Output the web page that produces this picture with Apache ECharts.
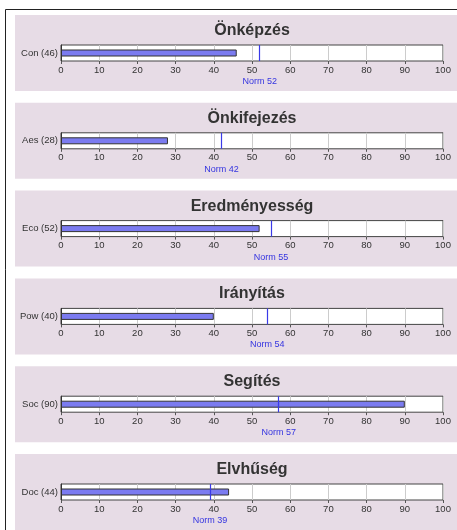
<!DOCTYPE html>
<html>
<head>
<meta charset="utf-8">
<script src="https://cdn.jsdelivr.net/npm/echarts@6/dist/echarts.min.js"></script>
<style>
  html, body { margin: 0; padding: 0; background: #fff; }
  #chart { width: 457px; height: 530px; }
</style>
</head>
<body>
<div id="chart"></div>
<script>
var titles = ['Önképzés', 'Önkifejezés', 'Eredményesség', 'Irányítás', 'Segítés', 'Elvhűség'];
var codes = ['Con', 'Aes', 'Eco', 'Pow', 'Soc', 'Doc'];
var scores = [46, 28, 52, 40, 90, 44];
var norms = [52, 42, 55, 54, 57, 39];

var chart = echarts.init(document.getElementById('chart'));

var panelTop = 15, panelStep = 87.8, panelH = 76;
var boxLeft = 61, boxRight = 14, boxH = 16;
var font = '"Liberation Sans", Arial, sans-serif';

var grids = [], xAxes = [], yAxes = [], series = [];
var graphics = [
  // outer frame
  { type: 'line', shape: { x1: 5.5, y1: 9.5, x2: 457, y2: 9.5 }, style: { stroke: '#222', lineWidth: 1 } },
  { type: 'line', shape: { x1: 5.5, y1: 9.5, x2: 5.5, y2: 530 }, style: { stroke: '#222', lineWidth: 1 } }
];

for (var i = 0; i < titles.length; i++) {
  var py = panelTop + i * panelStep;

  graphics.push({
    type: 'rect', z: -10,
    shape: { x: 15, y: py, width: 442, height: panelH },
    style: { fill: '#e7dce6' }
  });
  graphics.push({
    type: 'text',
    style: {
      text: titles[i], x: 252, y: py + 15.5,
      align: 'center', verticalAlign: 'middle',
      font: 'bold 16px ' + font, fill: '#333'
    }
  });

  grids.push({
    left: boxLeft, right: boxRight, top: py + 30, height: boxH,
    show: true, backgroundColor: '#fff', borderColor: '#444', borderWidth: 1
  });
  xAxes.push({
    gridIndex: i, type: 'value', min: 0, max: 100, interval: 10,
    axisLine: { show: false },
    axisTick: { show: true, length: 3, lineStyle: { color: '#555' } },
    axisLabel: { color: '#333', fontSize: 9.5, fontFamily: font, margin: 4 },
    splitLine: { show: true, lineStyle: { color: '#ccc', width: 1 } }
  });
  yAxes.push({
    gridIndex: i, type: 'category', data: [codes[i] + ' (' + scores[i] + ')'],
    axisLine: { show: true, lineStyle: { color: '#333', width: 1 } },
    axisTick: { show: false },
    axisLabel: { color: '#333', fontSize: 9.5, fontFamily: font, margin: 3 }
  });
  series.push({
    type: 'bar', xAxisIndex: i, yAxisIndex: i,
    data: [scores[i]], barWidth: 7,
    itemStyle: { color: '#7b7bf0', borderColor: '#333', borderWidth: 1 },
    silent: true,
    markLine: {
      silent: true, symbol: 'none', animation: false,
      lineStyle: { color: '#3a3ae8', width: 1.2, type: 'solid' },
      label: {
        position: 'start', distance: 16, formatter: 'Norm ' + norms[i],
        color: '#3434e0', fontSize: 9, fontFamily: font
      },
      data: [{ xAxis: norms[i] }]
    }
  });
}

chart.setOption({
  animation: false,
  backgroundColor: '#fff',
  graphic: graphics,
  grid: grids,
  xAxis: xAxes,
  yAxis: yAxes,
  series: series
});
</script>
</body>
</html>
